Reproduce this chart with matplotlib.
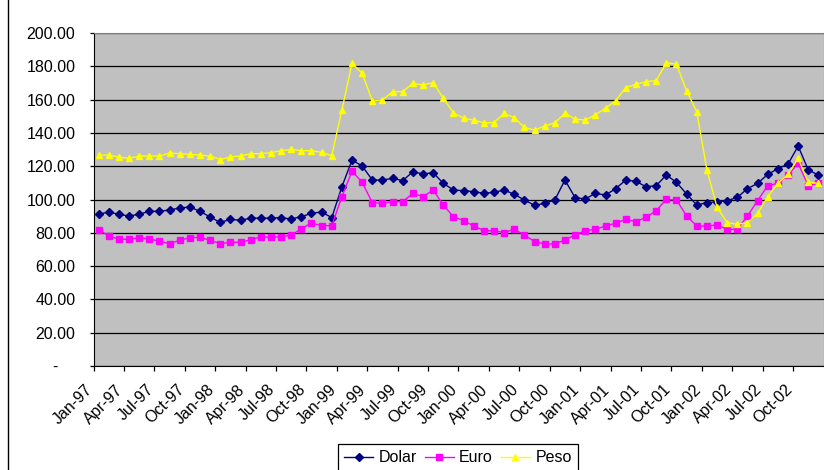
import numpy as np
import matplotlib
matplotlib.use("Agg")
import matplotlib.pyplot as plt
from matplotlib.patches import Rectangle
from matplotlib.transforms import ScaledTranslation

# monthly index values, Jan-97 .. Dec-02
dolar = [91.1, 92.5, 91.1, 90.1, 91.1, 92.9, 92.9, 93.7, 94.9, 95.5, 92.9, 89.5,
         86.2, 88.1, 87.5, 88.8, 88.8, 88.8, 89.1, 88.3, 89.7, 91.7, 92.5, 89.1,
         107.7, 123.7, 120.1, 111.7, 111.7, 112.7, 111.3, 116.7, 115.3, 116.1, 109.7, 105.7,
         105.3, 104.7, 103.7, 104.3, 105.7, 103.1, 99.7, 96.5, 97.7, 99.7, 111.7, 101.1,
         100.3, 103.7, 102.7, 106.5, 111.7, 110.9, 107.7, 108.3, 114.7, 110.3, 103.3, 96.7,
         98.1, 98.7, 99.3, 101.3, 106.5, 109.7, 115.1, 118.5, 121.3, 132.1, 117.7, 114.7]
euro = [81.8, 78.2, 76.1, 76.1, 77.0, 76.4, 74.9, 73.5, 75.5, 77.0, 77.3, 75.5,
        73.5, 74.3, 74.3, 75.8, 77.6, 77.2, 77.7, 78.5, 82.5, 85.9, 84.3, 84.3,
        101.7, 117.1, 110.3, 98.1, 97.7, 98.7, 98.7, 103.7, 101.7, 105.7, 96.7, 89.7,
        87.3, 84.1, 81.3, 81.3, 80.1, 82.1, 78.7, 74.7, 73.3, 73.3, 75.7, 78.7,
        81.3, 82.1, 84.1, 85.7, 88.1, 86.7, 89.3, 93.3, 100.1, 99.7, 90.1, 84.1,
        84.1, 84.7, 82.1, 82.1, 90.1, 99.3, 108.3, 109.7, 114.7, 121.7, 108.3, 109.7]
peso = [126.7, 126.7, 125.5, 124.7, 126.1, 126.1, 126.1, 127.9, 127.5, 127.1, 126.7, 126.1,
        124.0, 125.5, 126.1, 127.5, 127.5, 128.1, 129.3, 130.1, 129.3, 129.3, 128.3, 126.3,
        153.8, 181.8, 175.8, 159.2, 159.8, 164.8, 164.8, 169.8, 168.8, 170.2, 160.8, 152.1,
        148.8, 147.7, 146.1, 146.1, 151.8, 149.1, 143.3, 141.7, 144.1, 146.1, 151.8, 148.3,
        147.7, 150.8, 154.8, 159.4, 167.2, 169.2, 170.8, 171.4, 182.2, 181.2, 165.2, 152.8,
        117.7, 95.3, 86.1, 85.1, 86.1, 91.7, 101.7, 109.7, 115.1, 124.7, 110.3, 109.7]

months = ["Jan", "Apr", "Jul", "Oct"]
years = ["97", "98", "99", "00", "01", "02"]
tick_labels = [f"{m}-{y}" for y in years for m in months]

plt.rcParams.update({
    "font.family": ["Liberation Sans", "DejaVu Sans"],
    "font.size": 11.5,
})

fig = plt.figure(figsize=(8.24, 4.70), dpi=100)
ax = fig.add_axes([93.5 / 824, 1 - 366 / 470, (823.5 - 93.5) / 824, (366 - 33) / 470])
ax.set_facecolor("#c0c0c0")

x = np.arange(len(dolar))
ax.plot(x, dolar, color="#000080", lw=1, marker="D", ms=4, label="Dolar")
ax.plot(x, euro, color="#ff00ff", lw=1, marker="s", ms=4.2, label="Euro")
ax.plot(x, peso, color="#ffff00", lw=1, marker="^", ms=5, label="Peso")

ax.set_xlim(-0.5, len(dolar) - 0.5)
ax.set_ylim(0, 200)

yt = np.arange(0, 201, 20)
ax.set_yticks(yt, ["-" if v == 0 else f"{v:.2f}" for v in yt])
ax.yaxis.grid(True, color="black", lw=0.9)
ax.set_axisbelow(True)

xt = np.arange(-0.5, len(dolar) - 0.5, 3)
ax.set_xticks(xt, tick_labels, rotation=45, ha="right", va="baseline", rotation_mode="anchor")
ax.tick_params(axis="x", length=3.6, width=0.9, pad=14)
ax.tick_params(axis="y", length=3, width=0.9, pad=10)

for side in ["left", "bottom"]:
    ax.spines[side].set_color("black")
for side in ["top", "right"]:
    ax.spines[side].set_color("#808080")

# zero label sits further left
zero_lbl = ax.get_yticklabels()[0]
zero_lbl.set_transform(zero_lbl.get_transform() + ScaledTranslation(-0.18, 0, fig.dpi_scale_trans))

leg = fig.legend(loc="upper center", bbox_to_anchor=(458 / 824, 1 - 444 / 470), ncol=3,
                 frameon=True, fancybox=False, edgecolor="black", framealpha=1,
                 borderpad=0.4, handlelength=1.8, columnspacing=0.5, handletextpad=0.35,
                 borderaxespad=0)
leg.get_frame().set_linewidth(0.9)

# chart frame
fig.patches.append(Rectangle((8 / 824, -0.2), 1.2, 1.2 + 1 - 7 / 470, transform=fig.transFigure,
                             fill=False, edgecolor="black", lw=1))

fig.savefig("out.png", dpi=100)
